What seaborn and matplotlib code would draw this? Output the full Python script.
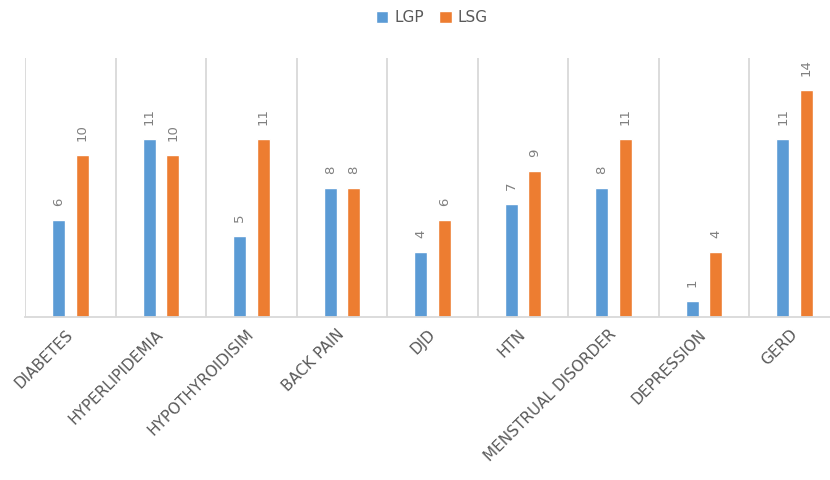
import matplotlib
matplotlib.use("Agg")
import matplotlib.pyplot as plt
import seaborn as sns
import pandas as pd

categories = ["DIABETES", "HYPERLIPIDEMIA", "HYPOTHYROIDISIM", "BACK PAIN", "DJD",
              "HTN", "MENSTRUAL DISORDER", "DEPRESSION", "GERD"]
lgp = [6, 11, 5, 8, 4, 7, 8, 1, 11]
lsg = [10, 10, 11, 8, 6, 9, 11, 4, 14]
groups = ["LGP", "LSG"]
colors = ["#5B9BD5", "#ED7D31"]

df = pd.DataFrame({
    "category": categories * 2,
    "group": [groups[0]] * len(categories) + [groups[1]] * len(categories),
    "value": lgp + lsg,
})

sns.set_theme(style="white")
plt.rcParams["font.family"] = ["DejaVu Sans"]

fig = plt.figure(figsize=(8.3, 4.8), dpi=100)
ax = fig.add_axes([25 / 830, 163 / 480, 815 / 830, 259 / 480])

sns.barplot(data=df, x="category", y="value", hue="group", order=categories,
            hue_order=groups, palette=colors, width=0.52, gap=0.45,
            saturation=1, ax=ax, legend=True)

ax.set_ylim(0, 16)
ax.set_xlim(-0.5, len(categories) - 0.5)
ax.set_xlabel("")
ax.set_ylabel("")
ax.set_yticks([])

for container in ax.containers:
    ax.bar_label(container, fmt="%d", rotation=90, padding=10,
                 color="#808080", fontsize=9.5)

# category separators
ax.set_xticks([i - 0.5 for i in range(len(categories) + 1)], minor=True)
ax.grid(which="minor", axis="x", color="#D9D9D9", linewidth=1.3)
ax.grid(which="major", axis="both", visible=False)
ax.tick_params(axis="x", which="both", length=0, pad=11)

for lbl in ax.get_xticklabels():
    lbl.set_rotation(45)
    lbl.set_rotation_mode("anchor")
    lbl.set_ha("right")
    lbl.set_va("center")
    lbl.set_color("#595959")
    lbl.set_fontsize(11)

for side in ["top", "right", "left"]:
    ax.spines[side].set_visible(False)
ax.spines["bottom"].set_color("#D9D9D9")
ax.spines["bottom"].set_linewidth(1.3)

leg = ax.legend(loc="center", bbox_to_anchor=(432 / 830, 1 - 18 / 480),
                bbox_transform=fig.transFigure, ncol=2, frameon=False,
                handlelength=0.8, handleheight=0.8, handletextpad=0.4,
                columnspacing=1.0, fontsize=11)
for t in leg.get_texts():
    t.set_color("#595959")

fig.savefig("out.png", dpi=100)
